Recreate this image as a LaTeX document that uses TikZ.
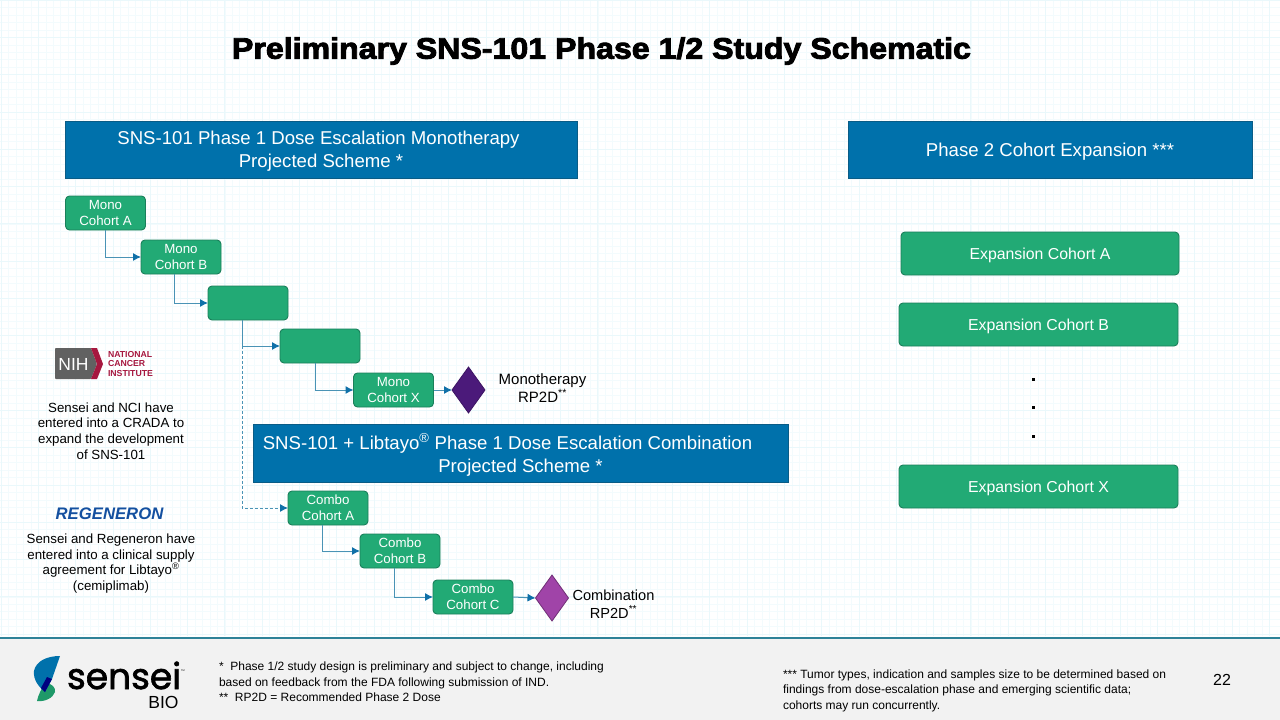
\documentclass[tikz,border=0pt]{standalone}
\usepackage{fontspec}
\setmainfont{Liberation Sans}
\newfontfamily\logofont[FakeBold=1.8]{Poppins}
\newfontfamily\titlefont[FakeBold=3,FakeStretch=1.085]{Liberation Sans Bold}
\usetikzlibrary{arrows.meta,shapes.geometric}
\definecolor{hdr}{HTML}{0071AB}
\definecolor{hdrline}{HTML}{0A5C86}
\definecolor{grn}{HTML}{22AA75}
\definecolor{grnline}{HTML}{1A7F5A}
\definecolor{cline}{HTML}{4A93B5}
\definecolor{ctip}{HTML}{0F70A8}
\definecolor{gridmin}{HTML}{F3FBFD}
\definecolor{gridmaj}{HTML}{EAF8FB}
\definecolor{foot}{HTML}{F2F2F2}
\definecolor{nihred}{HTML}{A6173F}
\definecolor{footline}{HTML}{2E8298}
\definecolor{dmono}{HTML}{4B1A7A}
\definecolor{dcombo}{HTML}{A044A8}
\definecolor{regblue}{HTML}{1450A0}
\tikzset{
 x=1pt,y=-1pt,
 every node/.style={inner sep=0pt,outer sep=0pt,align=center,font=\fontsize{13.3}{15.6}\selectfont},
 header/.style={fill=hdr,draw=hdrline,line width=0.8pt,text=white,text depth=-1pt,font=\fontsize{18.6}{23}\selectfont},
 cohort/.style={fill=grn,draw=grnline,line width=0.9pt,rounded corners=4pt,minimum width=80pt,minimum height=34pt,text=white,text depth=-3pt,font=\fontsize{13.3}{15.8}\selectfont},
 expn/.style={fill=grn,draw=grnline,line width=0.9pt,rounded corners=4pt,minimum width=279pt,minimum height=43pt,text=white,text depth=0pt,font=\fontsize{15.85}{19}\selectfont},
 goal/.style={diamond,aspect=0.7,minimum width=33pt,minimum height=46pt,line width=0.8pt},
 flow/.style={draw=cline,line width=1pt,-{Latex[length=8pt,width=8pt,color=ctip]}},
 flowdash/.style={flow,dash pattern=on 3pt off 2pt},
 note/.style={font=\fontsize{13.3}{15.8}\selectfont,text=black},
 foottext/.style={anchor=north west,align=left,font=\fontsize{12}{15.4}\selectfont,text=black},
}
\begin{document}
\begin{tikzpicture}
\useasboundingbox (0,0) rectangle (1280,720);
\fill[white] (0,0) rectangle (1280,720);
% background grid
\foreach \k in {0,...,170}{\draw[gridmin,line width=0.5pt] ({1+\k*7.46},0) -- ({1+\k*7.46},636);}
\foreach \k in {0,...,85}{\draw[gridmin,line width=0.5pt] (0,{0+\k*7.46}) -- (1280,{0+\k*7.46});}
\foreach \k in {0,...,34}{\draw[gridmaj,line width=0.8pt] ({1+\k*37.3},0) -- ({1+\k*37.3},636);}
\foreach \k in {0,...,17}{\draw[gridmaj,line width=0.8pt] (0,{0+\k*37.3}) -- (1280,{0+\k*37.3});}
% footer band
\fill[foot] (0,639) rectangle (1280,720);
\draw[footline,line width=1.6pt] (0,638) -- (1280,638);
% title
\node[font=\titlefont\fontsize{29.6}{34}\selectfont] (title) at (601.5,51) {Preliminary SNS-101 Phase 1/2 Study Schematic};
% headers
\node[header,minimum width=512pt,minimum height=57pt] (h1) at (321,149.5) {SNS-101 Phase 1 Dose Escalation Monotherapy\hspace*{5pt}\\Projected Scheme *};
\node[header,minimum width=404pt,minimum height=57pt] (h2) at (1050,149.5) {Phase 2 Cohort Expansion ***};
\node[header,minimum width=535pt,minimum height=58pt] (h3) at (520.5,453) {SNS-101 + Libtayo\textsuperscript{®} Phase 1 Dose Escalation Combination\hspace*{26pt}\\Projected Scheme *};
% mono cohorts
\node[cohort] (ma) at (105.5,213) {Mono\\Cohort A};
\node[cohort] (mb) at (181,257) {Mono\\Cohort B};
\node[cohort] (mc) at (248,303) {};
\node[cohort] (md) at (320,346) {};
\node[cohort] (mx) at (393.5,390) {Mono\\Cohort X};
\node[goal,fill=dmono,draw=dmono!80!black] (dm) at (468.5,390) {};
\node[font=\fontsize{15}{17.5}\selectfont] (lm) at (542.5,388) {Monotherapy\\RP2D\textsuperscript{**}};
% combo cohorts
\node[cohort] (ca) at (328,508) {Combo\\Cohort A};
\node[cohort] (cb) at (400,551) {Combo\\Cohort B};
\node[cohort] (cc) at (473,597) {Combo\\Cohort C};
\node[goal,fill=dcombo,draw=dcombo!70!black] (dc) at (552,598) {};
\node[font=\fontsize{14.6}{17.5}\selectfont] (lc) at (613.5,604) {Combination\\RP2D\textsuperscript{**}};
% connectors
\draw[flow] (ma.south) |- (mb.west);
\draw[flow] ([xshift=-7pt]mb.south) |- (mc.west);
\coordinate (branch) at ([xshift=-6pt]mc.south);
\draw[flow] (branch) |- (md.west);
\draw[flow] ([xshift=-5pt]md.south) |- (mx.west);
\draw[flow] (mx.east) -- (dm.west);
\draw[flowdash] (branch |- md.west) |- (ca.west);
\draw[flow] ([xshift=-6pt]ca.south) |- (cb.west);
\draw[flow] ([xshift=-6pt]cb.south) |- (cc.west);
\draw[flow] (cc.east) -- (dc.west);
% expansion
\node[expn,minimum width=278pt] (ea) at (1040,253.5) {Expansion Cohort A};
\node[expn] (eb) at (1038.5,324.5) {Expansion Cohort B};
\node[expn] (ex) at (1038.5,486.5) {Expansion Cohort X};
\foreach \n/\y in {d1/379,d2/407.5,d3/436}{\node[fill=black,minimum size=3pt] (\n) at (1033,\y) {};}
% NIH logo
\fill[black!62,rounded corners=0.8pt] (55,348) -- (91,348) -- (97,364) -- (91,379) -- (55,379) -- cycle;
\fill[nihred] (91,348) -- (97,348) -- (103,364) -- (97,379) -- (91,379) -- (97,364) -- cycle;
\node[text=white,font=\fontsize{17.5}{20}\selectfont] (nih) at (73.5,364) {NIH};
\node[text=nihred,anchor=west,align=left,font=\fontsize{8.7}{9.6}\bfseries\selectfont] (nci) at (108,364) {NATIONAL\\CANCER\\INSTITUTE};
\node[note] (t1) at (111,431) {Sensei and NCI have\\entered into a CRADA to\\expand the development\\of SNS-101};
% Regeneron
\node[text=regblue,font=\fontsize{16.7}{18}\bfseries\itshape\selectfont] (reg) at (109.5,514) {REGENERON};
\node[note] (t2) at (111,563.5) {Sensei and Regeneron have\\entered into a clinical supply\\agreement for Libtayo\textsuperscript{®}\\(cemiplimab)};
% sensei logo
\fill[grn!90!black] (45,683) .. controls (52,683) and (56,688) .. (55,692) .. controls (53,698) and (45,702) .. (37,701) .. controls (38,695) and (42,688) .. (45,683) -- cycle;
\fill[hdr] (60,656) .. controls (47,656) and (36,661) .. (34,671) .. controls (33,680) and (39,687) .. (45,692) -- (52,679) -- cycle;
\fill[blue!50!black] (47,677) -- (52,679) -- (45,692) -- (41,688) -- cycle;
\node[anchor=base west,font=\logofont\fontsize{36}{38}\selectfont] (sensei) at (67,689) {sensei};
\node[anchor=base east,font=\fontsize{17.5}{18}\selectfont] (bio) at (178.5,708) {BIO};
\node[anchor=west,font=\fontsize{2.5}{3}\selectfont] (tm) at (181,671) {TM};
% footer text
\node[foottext] (f1) at (219,662) {*\ \ Phase 1/2 study design is preliminary and subject to change, including\\based on feedback from the FDA following submission of IND.\\**\ \ RP2D = Recommended Phase 2 Dose};
\node[foottext] (f2) at (783,669.5) {*** Tumor types, indication and samples size to be determined based on\\findings from dose-escalation phase and emerging scientific data;\\cohorts may run concurrently.};
\node[font=\fontsize{16}{18}\selectfont] (pg) at (1222,680) {22};
\end{tikzpicture}
\end{document}
